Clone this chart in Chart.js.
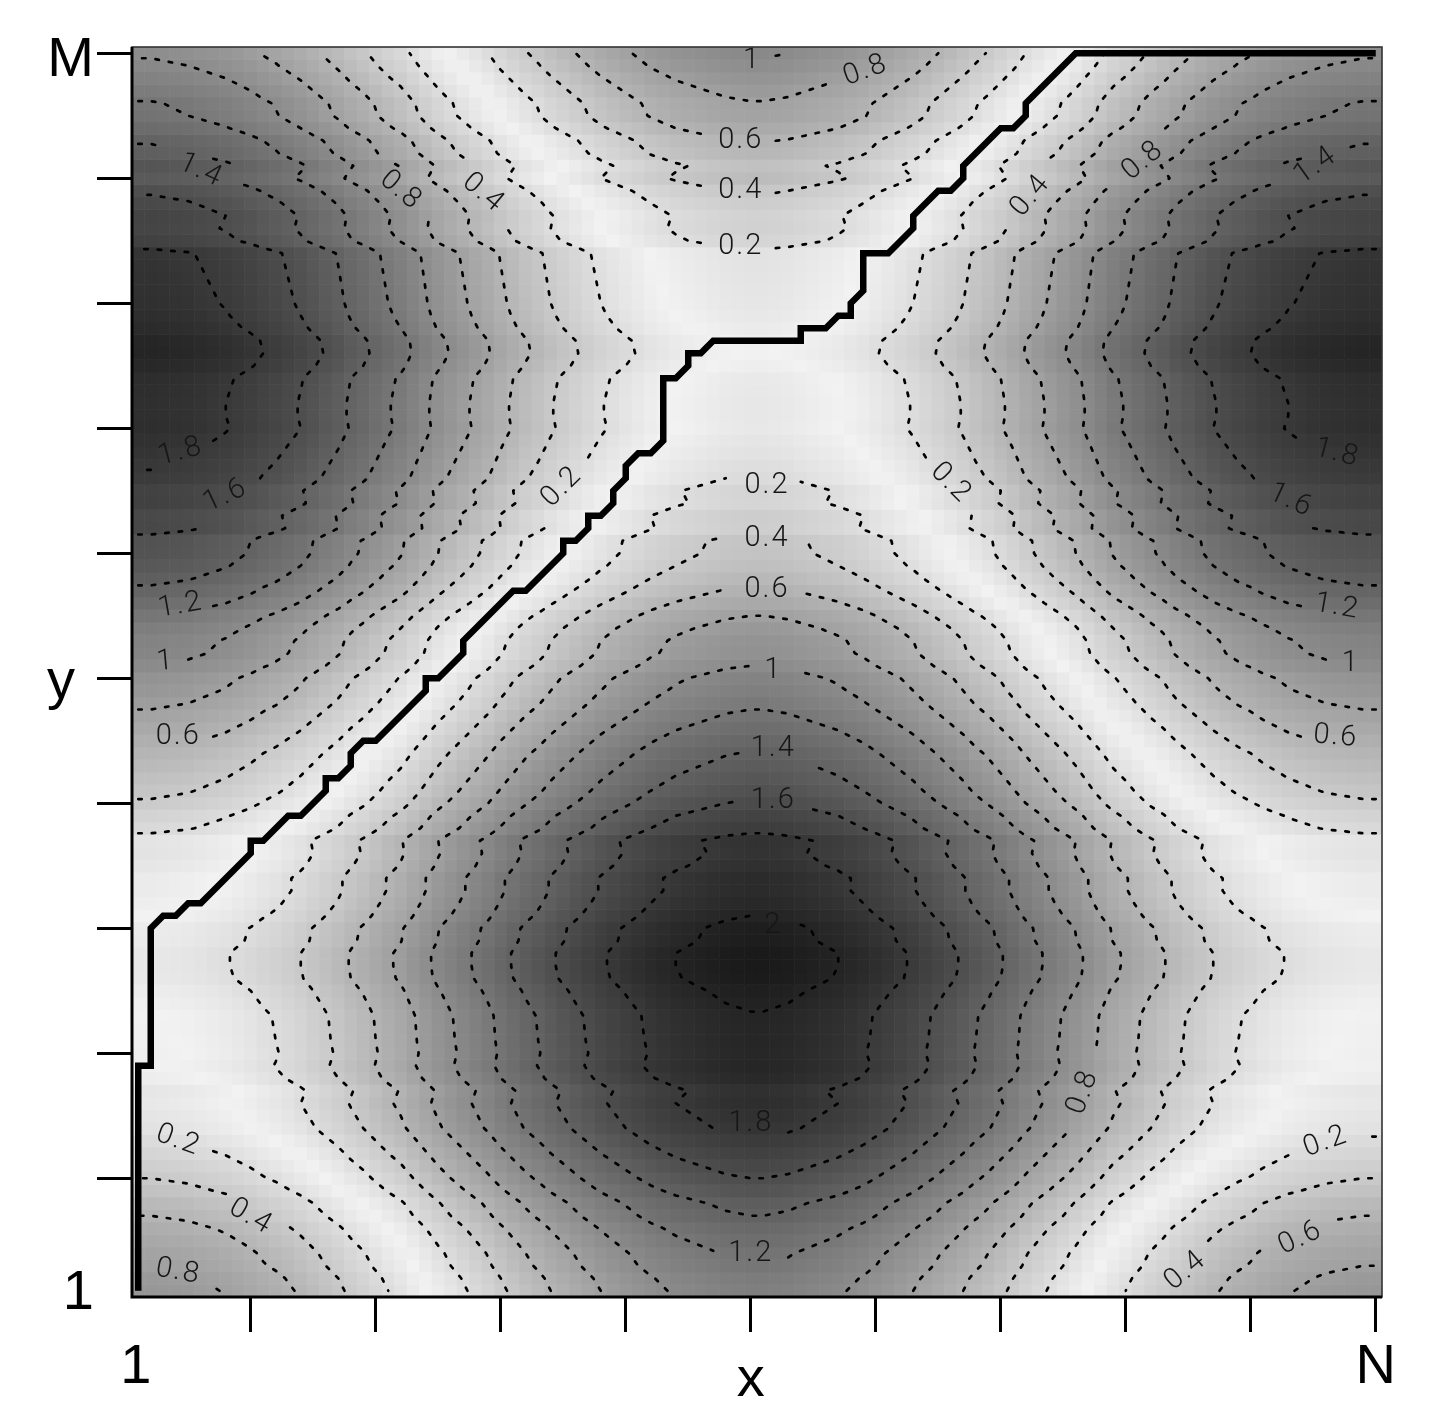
<!DOCTYPE html>
<html><head><meta charset="utf-8">
<style>html,body{margin:0;padding:0;background:#fff}canvas{display:block}</style>
<script src="https://cdn.jsdelivr.net/npm/chart.js@4/dist/chart.umd.min.js"></script>
</head><body><canvas id="c" width="1437" height="1420"></canvas>
<script>
// Series: value of the x series at each index 1..N
const seriesX = [
-1.00,-1.00,-.99,-.98,-.97,-.95,-.93,-.91,-.88,-.85,
-.81,-.78,-.74,-.70,-.65,-.60,-.55,-.49,-.44,-.38,
-.32,-.27,-.20,-.13,-.06,.00,.06,.12,.18,.25,
.31,.37,.42,.48,.53,.58,.63,.68,.72,.76,
.80,.84,.87,.90,.92,.94,.96,.98,.99,1.00,
1.00,.99,.98,.96,.94,.92,.90,.87,.84,.80,
.76,.72,.68,.63,.58,.53,.48,.42,.37,.31,
.25,.18,.12,.06,.00,-.06,-.13,-.20,-.27,-.32,
-.38,-.44,-.49,-.55,-.60,-.65,-.70,-.74,-.78,-.81,
-.85,-.88,-.91,-.93,-.95,-.97,-.98,-.99,-1.00,-1.00];
// value of the y series at each index 1..M
const seriesY = [
-.12,-.15,-.20,-.23,-.28,-.33,-.40,-.45,-.53,-.60,
-.66,-.72,-.78,-.84,-.87,-.90,-.88,-.95,-.985,-.97,
-.98,-.985,-.99,-1.02,-1.05,-1.09,-1.10,-1.10,-1.065,-1.055,
-1.00,-.96,-.93,-.93,-.88,-.85,-.86,-.76,-.70,-.62,
-.56,-.51,-.46,-.41,-.35,-.29,-.23,-.17,-.12,-.08,
.00,.06,.08,.13,.20,.29,.37,.44,.50,.54,
.55,.65,.64,.72,.71,.78,.81,.84,.87,.90,
.89,.89,.90,.91,.96,.99,.98,.93,.90,.88,
.87,.86,.85,.84,.72,.68,.69,.64,.58,.48,
.52,.43,.39,.30,.23,.21,.15,.09,.03,-.02];
// warping path vertices
const pathX = [1,1,2,2,3,4,5,6,10,10,11,13,14,16,16,17,18,18,19,20,24,24,25,27,27,31,32,35,35,36,37,37,38,39,39,40,40,41,42,43,43,44,45,45,46,47,54,54,56,57,58,58,59,59,61,63,63,65,66,67,67,70,71,72,72,76,100];
const pathY = [1,19,19,30,31,31,32,32,36,37,37,39,39,41,42,42,43,44,45,45,49,50,50,52,53,57,57,60,61,61,62,63,63,64,65,66,67,68,68,69,74,74,75,76,76,77,77,78,78,79,79,80,81,84,84,86,87,89,89,90,91,94,94,95,96,100,100];
const contourLevels = [0.2,0.4,0.6,0.8,1,1.2,1.4,1.6,1.8,2];
const contourLabelText = ["1","0.8","0.6","0.4","0.2","1.4","0.8","0.4","1.4","0.8","0.4","1.8","1.6","1.2","1","0.6","1.8","1.6","1.2","1","0.6","0.2","0.2","0.2","0.4","0.6","1","1.4","1.6","2","1.8","1.2","0.8","0.2","0.4","0.8","0.2","0.6","0.4"];
const contourLabelX = [50.1,59.2,49.2,49.2,49.2,6,22,28.6,95.2,81.4,72.4,4.4,8,4.4,3.2,4.2,96.9,93.2,96.9,98,96.8,34.9,66,51.3,51.3,51.3,51.8,51.8,51.8,51.8,50,50,76.6,4.2,10,4.2,96,94,84.8];
const contourLabelY = [99.4,98.6,93,89,84.5,90.6,89,88.8,91,91.4,88.6,68.1,64.6,55.8,51.3,45.3,68,64.2,55.7,51.2,45.3,65.3,65.6,65.4,61.2,57.1,50.6,44.4,40.2,30.2,14.4,4,16.9,13,6.9,2.5,12.9,5.2,2.6];
const contourLabelAngle = [0,-20,0,0,0,25,40,40,-35,-40,-50,-15,-25,-10,-5,0,15,25,10,0,5,-45,45,0,0,0,0,0,0,0,0,0,-70,20,30,10,-20,-25,-40];
const xTickValues = [0.8,10,20,30,40,50,60,70,80,90,100];
const yTickValues = [0.8,10,20,30,40,50,60,70,80,90,99.4,100];
const xTickText = {0.8:"1",100:"N"};
const yTickText = {0.8:"1",99.4:"M"};

const N = seriesX.length, M = seriesY.length;
const cost = (i,j)=>Math.abs(seriesX[i]-seriesY[j]);

// cells
const cells=[], cellColors=[];
for(let j=0;j<M;j++)for(let i=0;i<N;i++){
  cells.push({x:i+1,y:j+1});
  const g=Math.max(0,Math.round(242-103*cost(i,j)));
  cellColors.push(`rgb(${g},${g},${g})`);
}

// contour segments by marching squares over the matrix
const UNIT=12.5;
function nearLabel(level,px,py){
  for(let k=0;k<contourLabelText.length;k++){
    if(parseFloat(contourLabelText[k])!==level)continue;
    const a=contourLabelAngle[k]*Math.PI/180;
    const dx=(px-contourLabelX[k])*UNIT, dy=-(py-contourLabelY[k])*UNIT;
    const u=dx*Math.cos(a)+dy*Math.sin(a), v=-dx*Math.sin(a)+dy*Math.cos(a);
    const hw=contourLabelText[k].length*8+14;
    if(Math.abs(u)<hw&&Math.abs(v)<16)return true;
  }
  return false;
}
function contourSegments(level){
  const segs=[];
  const f=(i,j)=>cost(i,j);
  for(let j=0;j<M-1;j++)for(let i=0;i<N-1;i++){
    const v=[f(i,j),f(i+1,j),f(i+1,j+1),f(i,j+1)];
    const c=[[i,j],[i+1,j],[i+1,j+1],[i,j+1]];
    const p=[];
    for(let e=0;e<4;e++){
      const a=v[e],b=v[(e+1)%4];
      if((a<level)!==(b<level)){
        const t=(level-a)/(b-a),A=c[e],B=c[(e+1)%4];
        p.push({e,x:A[0]+t*(B[0]-A[0])+1,y:A[1]+t*(B[1]-A[1])+1});
      }
    }
    if(p.length===2)segs.push([p[0],p[1]]);
    else if(p.length===4){
      const m=(v[0]+v[1]+v[2]+v[3])/4;
      if((m<level)===(v[0]<level)){segs.push([p[0],p[1]],[p[2],p[3]]);}
      else{segs.push([p[3],p[0]],[p[1],p[2]]);}
    }
  }
  return segs.filter(s=>!nearLabel(level,(s[0].x+s[1].x)/2,(s[0].y+s[1].y)/2));
}
function chain(segs){
  const key=p=>p.x.toFixed(4)+","+p.y.toFixed(4);
  const map=new Map();
  segs.forEach((s,n)=>{[0,1].forEach(k=>{const K=key(s[k]);if(!map.has(K))map.set(K,[]);map.get(K).push(n);});});
  const used=new Set(),out=[];
  const walk=(start,p)=>{
    const line=[p];let cur=p,n=start;
    while(n!==undefined){
      used.add(n);
      const s=segs[n];
      const nxt=key(s[0])===key(cur)?s[1]:s[0];
      line.push(nxt);cur=nxt;
      n=(map.get(key(cur))||[]).find(q=>!used.has(q));
    }
    return line;
  };
  segs.forEach((s,n)=>{
    if(used.has(n))return;
    for(const k of [0,1]){
      if(map.get(key(s[k])).length===1){
        out.push(walk(n,s[k]),{x:NaN,y:NaN});
        return;
      }
    }
  });
  segs.forEach((s,n)=>{if(!used.has(n))out.push(walk(n,s[0]),{x:NaN,y:NaN});});
  return out.flat().map(p=>({x:p.x,y:p.y}));
}

const contourSets=contourLevels.map(level=>({
  label:"level "+level,
  data:chain(contourSegments(level)),
  showLine:true,pointRadius:0,borderColor:"#000",borderWidth:2.7,
  borderDash:[3.5,10],borderCapStyle:"round",borderJoinStyle:"round",
  spanGaps:false,tension:0,order:1
}));

const overlay={
  id:"overlay",
  afterDatasetsDraw(chart){
    const {ctx,scales:{x,y},chartArea:a}=chart;
    ctx.save();
    ctx.fillStyle="#161616";ctx.textAlign="center";ctx.textBaseline="middle";
    ctx.font="300 29px Roboto";
    contourLabelText.forEach((t,k)=>{
      ctx.save();
      ctx.translate(x.getPixelForValue(contourLabelX[k]),y.getPixelForValue(contourLabelY[k]));
      ctx.rotate(contourLabelAngle[k]*Math.PI/180);
      ctx.letterSpacing="2px";
      ctx.fillText(t,0,0);
      ctx.restore();
    });
    // frame
    ctx.strokeStyle="#333";ctx.lineWidth=1.6;
    ctx.strokeRect(a.left,a.top,a.right-a.left,a.bottom-a.top);
    ctx.strokeStyle="#000";ctx.lineWidth=3;
    ctx.beginPath();ctx.moveTo(a.left,a.top);ctx.lineTo(a.left,a.bottom);ctx.lineTo(a.right,a.bottom);ctx.stroke();
    // axis names
    ctx.fillStyle="#000";ctx.font="56px 'Liberation Sans'";ctx.letterSpacing="0px";
    ctx.fillText("x",x.getPixelForValue(50),1381);
    ctx.fillText("y",61,y.getPixelForValue(50)+4);
    ctx.restore();
  }
};

new Chart(document.getElementById("c"),{
  type:"scatter",
  data:{datasets:[
    {label:"warping path",data:pathX.map((v,k)=>({x:v,y:pathY[k]})),showLine:true,pointRadius:0,
     borderColor:"#000",borderWidth:6.5,borderJoinStyle:"miter",borderCapStyle:"butt",tension:0,order:0},
    ...contourSets,
    {label:"cost",data:cells,pointStyle:"rect",pointRadius:9.3,pointBorderWidth:0,
     pointBackgroundColor:cellColors,showLine:false,order:2}
  ]},
  options:{
    responsive:false,animation:false,devicePixelRatio:1,
    events:[],
    layout:{padding:{left:0,top:47,right:55,bottom:0},autoPadding:false},
    plugins:{legend:{display:false},tooltip:{enabled:false},title:{display:false}},
    scales:{
      x:{type:"linear",min:0.5,max:100.5,
        afterBuildTicks(s){s.ticks=xTickValues.map(v=>({value:v}));},
        afterFit(s){s.height=123;},
        border:{display:false},
        grid:{drawOnChartArea:false,drawTicks:true,tickLength:35,lineWidth:3,
          tickColor:c=>c.tick&&c.tick.value===0.8?"rgba(0,0,0,0)":"#000"},
        ticks:{autoSkip:false,maxRotation:0,minRotation:0,padding:2,color:"#000",
          font:{family:"Liberation Sans",size:56},
          callback:v=>xTickText[v]||""}
      },
      y:{type:"linear",min:0.5,max:100.5,
        afterBuildTicks(s){s.ticks=yTickValues.map(v=>({value:v}));},
        afterFit(s){s.width=132;},
        border:{display:false},
        grid:{drawOnChartArea:false,drawTicks:true,tickLength:35,lineWidth:3,
          tickColor:c=>c.tick&&(c.tick.value===0.8||c.tick.value===99.4)?"rgba(0,0,0,0)":"#000"},
        ticks:{autoSkip:false,padding:3,color:"#000",
          font:{family:"Liberation Sans",size:56},
          callback:v=>yTickText[v]||""}
      }
    }
  },
  plugins:[overlay]
});
</script></body></html>
